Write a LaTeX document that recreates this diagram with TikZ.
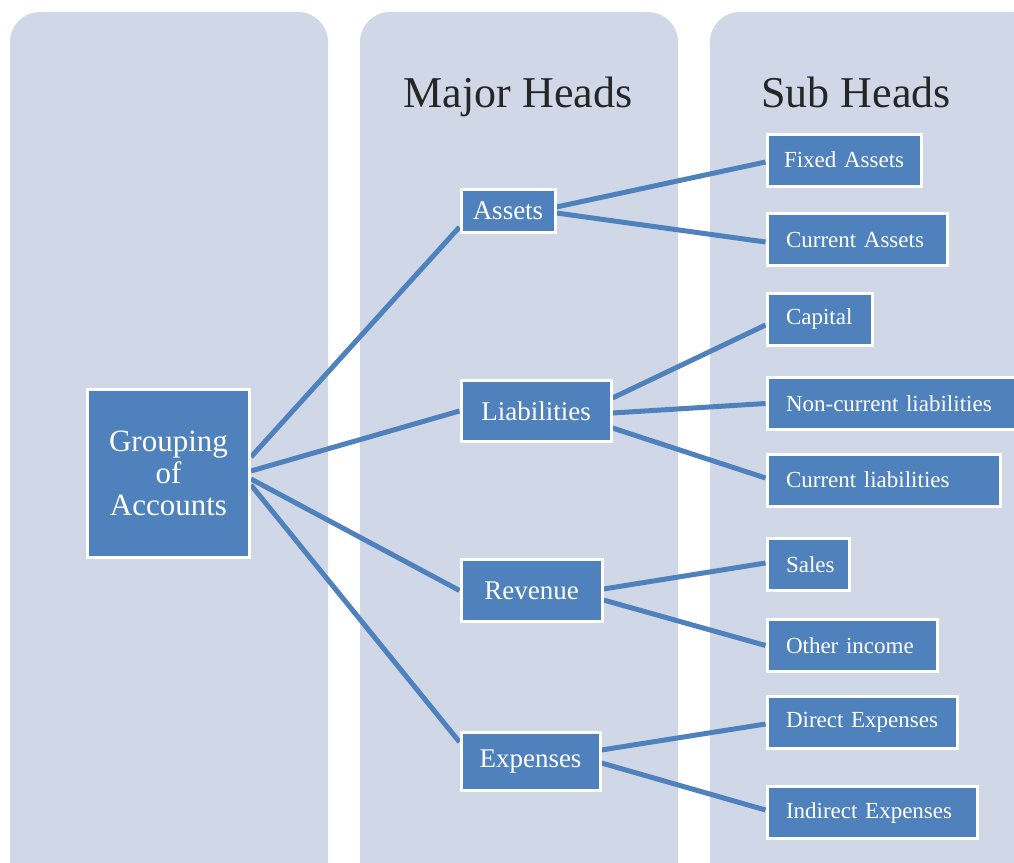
\documentclass[tikz,border=0pt]{standalone}
\usepackage{fontspec}
\setmainfont{Liberation Serif}
\usetikzlibrary{backgrounds}
\definecolor{panelfill}{HTML}{D0D8E8}
\definecolor{boxblue}{HTML}{4F81BD}
\tikzset{
  panel/.style={fill=panelfill, rounded corners=30pt},
  bluebox/.style={fill=boxblue, draw=white, line width=3pt, text=white, inner sep=0pt},
  headbox/.style={bluebox, anchor=west, font=\fontsize{27}{30}\selectfont},
  subbox/.style={bluebox, anchor=west, inner xsep=19pt, minimum height=52pt, align=left, font=\fontsize{23}{26}\selectfont},
  coltitle/.style={text=black!85, anchor=base, font=\fontsize{44}{48}\selectfont},
  link/.style={draw=boxblue, line width=5pt},
}
\begin{document}
\begin{tikzpicture}[x=1pt,y=-1pt]
\useasboundingbox (0,0) rectangle (1014,862);
\clip (0,0) rectangle (1014,862);

% Column titles
\node[coltitle] (majortitle) at (518,107) {Major Heads};
\node[coltitle] (subtitle) at (856,107) {Sub Heads};

% Root
\node[bluebox, minimum width=162pt, minimum height=168pt, align=center, text depth=0pt, font=\fontsize{31}{32}\selectfont] (grp) at (168.5,473.5) {Grouping\\of\\Accounts};

% Major heads
\node[headbox, minimum width=94pt, minimum height=43pt] (assets) at (459.5,211) {Assets};
\node[headbox, minimum width=150pt, minimum height=61pt] (liab) at (459.5,411) {Liabilities};
\node[headbox, minimum width=141pt, minimum height=62pt] (rev) at (459.5,590.5) {Revenue};
\node[headbox, minimum width=139pt, minimum height=58pt] (exp) at (459.5,761.5) {Expenses};

% Sub heads
\node[subbox, text width=130pt, inner xsep=12pt] (fixed) at (765.5,160) {\hspace{5pt}Fixed Assets};
\node[subbox, text width=142pt] (curassets) at (765.5,239.5) {Current Assets};
\node[subbox, text width=67pt] (capital) at (765.5,319) {Capital};
\node[subbox, text width=211pt] (noncurliab) at (765.5,403.5) {Non-current liabilities};
\node[subbox, text width=195pt] (curliab) at (765.5,480) {Current liabilities};
\node[subbox, text width=44pt] (sales) at (765.5,564.5) {Sales};
\node[subbox, text width=132pt] (other) at (765.5,645.5) {Other income};
\node[subbox, text width=152pt] (direct) at (765.5,722) {Direct Expenses};
\node[subbox, text width=172pt] (indirect) at (765.5,812.5) {Indirect Expenses};

\begin{scope}[on background layer]
% Panels
\fill[panel] (10,12) rectangle (328,900);
\fill[panel] (360,12) rectangle (678,900);
\fill[panel] (710,12) rectangle (1040,900);

% Links from the root
\draw[link] ([yshift=16.5pt]grp.east) -- ([yshift=-16pt]assets.west);
\draw[link] ([yshift=2.5pt]grp.east) -- (liab.west);
\draw[link] ([yshift=-5.5pt]grp.east) -- (rev.west);
\draw[link] ([yshift=-11.5pt]grp.east) -- ([yshift=19.5pt]exp.west);

% Links to sub heads
\draw[link] ([yshift=4pt]assets.east) -- ([yshift=-2pt]fixed.west);
\draw[link] ([yshift=-2pt]assets.east) -- ([yshift=-2.5pt]curassets.west);
\draw[link] ([yshift=13pt]liab.east) -- ([yshift=-6pt]capital.west);
\draw[link] ([yshift=-2pt]liab.east) -- (noncurliab.west);
\draw[link] ([yshift=-17pt]liab.east) -- ([yshift=2pt]curliab.west);
\draw[link] ([yshift=1.5pt]rev.east) -- ([yshift=1.5pt]sales.west);
\draw[link] ([yshift=-9.5pt]rev.east) -- (other.west);
\draw[link] ([yshift=11.5pt]exp.east) -- ([yshift=-2pt]direct.west);
\draw[link] ([yshift=-1.5pt]exp.east) -- ([yshift=2.5pt]indirect.west);
\end{scope}
\end{tikzpicture}
\end{document}
